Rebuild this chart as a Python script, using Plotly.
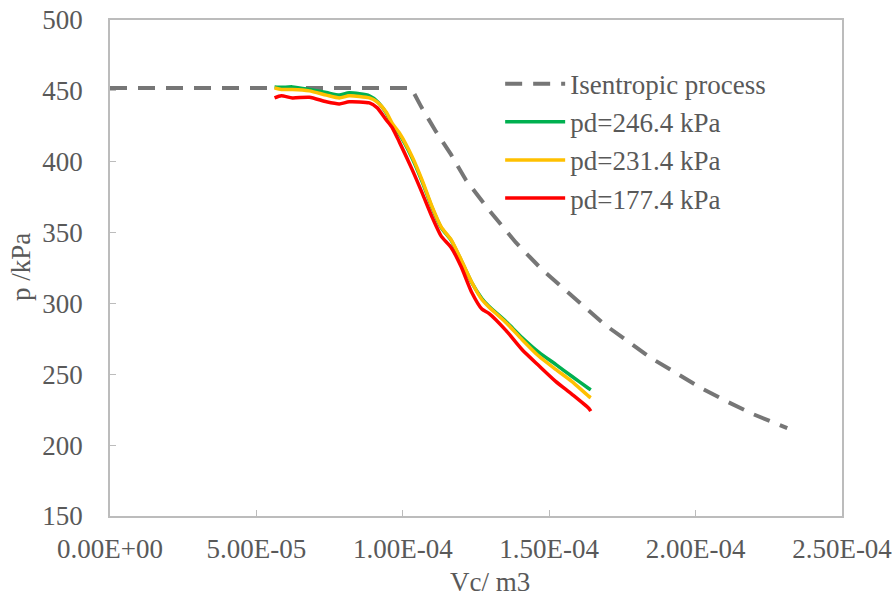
import plotly.graph_objects as go

# Isentropic process (dashed reference)
iso_vc = [0.0, 1.029e-4, 1.063e-4, 1.114e-4, 1.165e-4, 1.216e-4, 1.294e-4, 1.386e-4,
          1.475e-4, 1.543e-4, 1.618e-4, 1.693e-4, 1.771e-4, 1.849e-4, 1.935e-4,
          2.020e-4, 2.112e-4, 2.197e-4, 2.313e-4]
iso_p = [452, 452, 438.7, 421, 405, 387, 366, 343,
         324, 311.3, 298, 284.5, 272.5, 261.3, 250.7,
         240.1, 230.3, 221.8, 212]

# Measured curves (shared volume samples)
vc = [5.62e-5, 5.85e-5, 6.23e-5, 6.81e-5, 7.39e-5, 7.83e-5, 8.17e-5, 8.86e-5,
      9.13e-5, 9.43e-5, 9.64e-5, 9.88e-5, 1.032e-4, 1.066e-4, 1.100e-4, 1.131e-4,
      1.165e-4, 1.199e-4, 1.236e-4, 1.270e-4, 1.294e-4, 1.352e-4, 1.407e-4,
      1.465e-4, 1.522e-4, 1.577e-4, 1.635e-4, 1.642e-4]
p_246 = [452.8, 452.5, 452.8, 451, 448.8, 447, 448.6, 446.5,
         442.5, 434.5, 426, 419.5, 402.5, 386, 367.5, 353.5,
         344.5, 330.5, 314.5, 303.5, 298, 287.3, 276,
         265.5, 257, 248.6, 240, 239]
p_231 = [452, 451, 451, 450, 447, 445, 446.5, 445,
         442, 435, 427, 420.4, 403.5, 387, 368.3, 354,
         345, 331, 314.8, 302.8, 297.5, 286.6, 274.6,
         262.7, 253.5, 245, 234.5, 233.5]
p_177 = [445, 446.5, 445, 445.5, 442.3, 440.8, 442.3, 441.5,
         438, 429.6, 424, 414, 394.4, 378, 361, 347.5,
         339.5, 326, 307.5, 296, 293, 281, 267.5,
         256, 245, 236, 226, 224]

x_tickvals = [0, 5e-5, 1e-4, 1.5e-4, 2e-4, 2.5e-4]
x_ticktext = ["0.00E+00", "5.00E-05", "1.00E-04", "1.50E-04", "2.00E-04", "2.50E-04"]

FONT = "Liberation Serif, Times New Roman, serif"
TXT = "#595959"
AX = "#bcbcbc"
FS = 27

fig = go.Figure()
fig.add_trace(go.Scatter(x=iso_vc, y=iso_p, mode="lines", name="Isentropic process",
                         line=dict(color="#767676", width=4, dash="17px,11px")))
fig.add_trace(go.Scatter(x=vc, y=p_246, mode="lines", name="pd=246.4 kPa",
                         line=dict(color="#00b050", width=3.5, shape="spline", smoothing=0.6)))
fig.add_trace(go.Scatter(x=vc, y=p_231, mode="lines", name="pd=231.4 kPa",
                         line=dict(color="#ffc000", width=3.5, shape="spline", smoothing=0.6)))
fig.add_trace(go.Scatter(x=vc, y=p_177, mode="lines", name="pd=177.4 kPa",
                         line=dict(color="#ff0000", width=3.5, shape="spline", smoothing=0.6)))

fig.update_layout(
    width=896, height=600,
    margin=dict(l=110, r=54, t=20, b=84, autoexpand=False),
    paper_bgcolor="white", plot_bgcolor="white",
    font=dict(family=FONT, size=FS, color=TXT),
    showlegend=True,
    legend=dict(x=0.533, y=0.92, xanchor="left", yanchor="top",
                bgcolor="rgba(0,0,0,0)", font=dict(family=FONT, size=FS, color=TXT),
                itemwidth=60, tracegroupgap=0),
    xaxis=dict(range=[0, 2.5e-4], tickvals=x_tickvals, ticktext=x_ticktext,
               showgrid=False, zeroline=False, showline=True, linecolor=AX, linewidth=1.5,
               mirror=True, ticks="inside", ticklen=6, tickcolor=AX, automargin=False,
               ticklabelstandoff=8, ticklabeloverflow="allow",
               tickfont=dict(family=FONT, size=FS, color=TXT)),
    yaxis=dict(range=[150, 500], dtick=50, tick0=150,
               showgrid=False, zeroline=False, showline=True, linecolor=AX, linewidth=1.5,
               mirror=True, ticks="inside", ticklen=6, tickcolor=AX, automargin=False,
               ticklabelstandoff=20, ticklabeloverflow="allow",
               tickfont=dict(family=FONT, size=FS, color=TXT)),
    annotations=[
        dict(text="Vc/ m3", xref="paper", yref="paper", x=0.519, y=-0.133,
             showarrow=False, xanchor="center", yanchor="middle",
             font=dict(family=FONT, size=FS, color=TXT)),
        dict(text="p /kPa", xref="paper", yref="paper", x=-0.1216, y=0.502,
             showarrow=False, xanchor="center", yanchor="middle", textangle=-90,
             font=dict(family=FONT, size=FS, color=TXT)),
    ],
)

fig.write_html("out.html", config={"displayModeBar": False},
               post_script="document.body.style.margin='0';document.body.style.overflow='hidden';")
